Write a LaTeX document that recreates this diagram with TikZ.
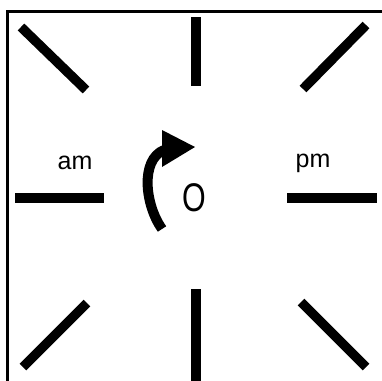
\documentclass[tikz,border=0pt]{standalone}
\usepackage{fontspec}
\setmainfont{Liberation Sans}
\begin{document}
\begin{tikzpicture}[x=1pt,y=-1pt,
  tick/.style={line width=9.5pt},
  lbl/.style={font=\fontsize{25}{25}\selectfont, inner sep=0pt}]
\useasboundingbox (0,0) rectangle (382,380);
\clip (0,0) rectangle (382,380);
% frame
\draw[line width=3pt] (7.5,430) -- (7.5,11) -- (430,11);
% ticks
\draw[tick] (21,27) -- (86,90);
\draw[tick] (196,17) -- (196,86);
\draw[tick] (366,25) -- (303,89);
\draw[tick] (15,198) -- (104,198);
\draw[tick] (287,198) -- (377,198);
\draw[tick] (23,367) -- (87,303);
\draw[tick] (196,289) -- (196,385);
\draw[tick] (366,367) -- (301,302);
% labels
\node[lbl] (am) at (75,163) {am};
\node[lbl] (pm) at (313,163) {pm};
\node[font=\fontsize{40}{40}\selectfont, inner sep=0pt, xscale=0.76] (o) at (194,198) {O};
% curved arrow
\draw[line width=10pt] (162,229) .. controls (145,205) and (140,160) .. (164,150);
\fill (162,130) -- (195,147) -- (162,167) -- cycle;
\end{tikzpicture}
\end{document}
